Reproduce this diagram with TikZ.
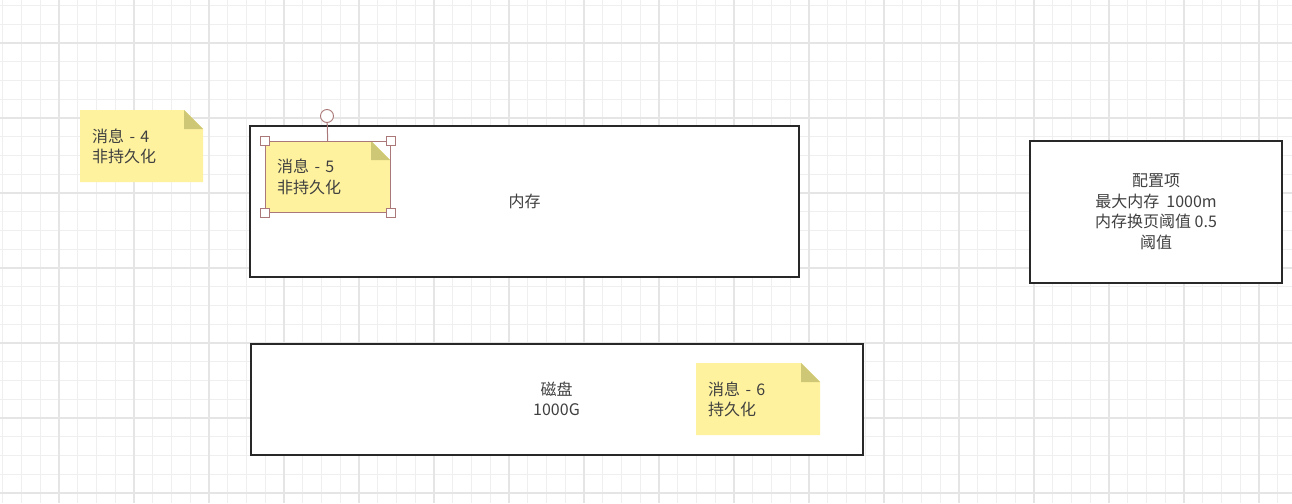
\documentclass[tikz,border=0pt]{standalone}
\usepackage{fontspec}
\newfontfamily\cjk{Noto Sans CJK SC}
\definecolor{gridminor}{RGB}{239,239,239}
\definecolor{gridmajor}{RGB}{229,229,229}
\definecolor{notefill}{RGB}{255,242,158}
\definecolor{notefold}{RGB}{206,200,118}
\definecolor{boxline}{RGB}{40,40,40}
\definecolor{txt}{RGB}{64,64,64}
\definecolor{handle}{RGB}{170,120,120}
\begin{document}
\begin{tikzpicture}[x=1pt,y=-1pt,
  txtfont/.style={font=\cjk\fontsize{16}{20.5}\selectfont,text=txt},
  box/.style={txtfont,draw=boxline,line width=2pt,fill=white,align=center,inner sep=0pt},
  note/.style={txtfont,inner ysep=0pt,inner xsep=12pt,align=left,
    path picture={
      \fill[notefill] (path picture bounding box.north west)
        -- ([xshift=-19pt]path picture bounding box.north east)
        -- ([yshift=-19pt]path picture bounding box.north east)
        -- (path picture bounding box.south east)
        -- (path picture bounding box.south west) -- cycle;
      \fill[notefold] ([xshift=-19pt]path picture bounding box.north east)
        -- ([xshift=-19pt,yshift=-19pt]path picture bounding box.north east)
        -- ([yshift=-19pt]path picture bounding box.north east) -- cycle;
    }},
  handlebox/.style={draw=handle,fill=white,line width=0.8pt,minimum size=9pt,inner sep=0pt},
  rothandle/.style={circle,draw=handle,fill=white,line width=0.9pt,minimum size=13pt,inner sep=0pt},
  minorline/.style={gridminor,line width=1pt},
  majorline/.style={gridmajor,line width=1.2pt}]
\useasboundingbox (0,0) rectangle (1292,503);
\fill[white] (0,0) rectangle (1292,503);
% grid
\foreach \i in {0,...,68} \draw[minorline] ({2.75+18.75*\i},0) -- ({2.75+18.75*\i},503);
\foreach \j in {0,...,26} \draw[minorline] (0,{5.5+18.75*\j}) -- (1292,{5.5+18.75*\j});
\foreach \i in {0,...,16} \draw[majorline] ({59+75*\i},0) -- ({59+75*\i},503);
\foreach \j in {0,...,6} \draw[majorline] (0,{43+75*\j}) -- (1292,{43+75*\j});

% boxes
\node[box,minimum width=549pt,minimum height=151pt] (mem) at (524.5,201) {内存};
\node[box,minimum width=612pt,minimum height=111pt] (disk) at (556.5,399) {磁盘\\1000G};
\node[box,minimum width=252pt,minimum height=142pt] (cfg) at (1156,211.5) {配置项\\最大内存\ \ 1000m\\内存换页阈值 0.5\\阈值};

% notes
\node[note,text width=99pt,minimum height=72pt,anchor=north west] (n4) at (80,110) {消息 - 4\\非持久化};
\node[note,text width=101pt,minimum height=71pt,anchor=north west] (n5) at (265,141) {消息 - 5\\非持久化};
\node[note,text width=100pt,minimum height=72pt,anchor=north west] (n6) at (696,363) {消息 - 6\\持久化};

% selection of note 5
\draw[handle,line width=0.7pt] (n5.north west) rectangle (n5.south east);
\node[rothandle] (rot) at (327,116) {};
\draw[handle,line width=1pt] (rot) -- (n5.north);
\node[handlebox] (h1) at (n5.north west) {};
\node[handlebox] (h2) at (n5.north east) {};
\node[handlebox] (h3) at (n5.south west) {};
\node[handlebox] (h4) at (n5.south east) {};
\end{tikzpicture}
\end{document}
